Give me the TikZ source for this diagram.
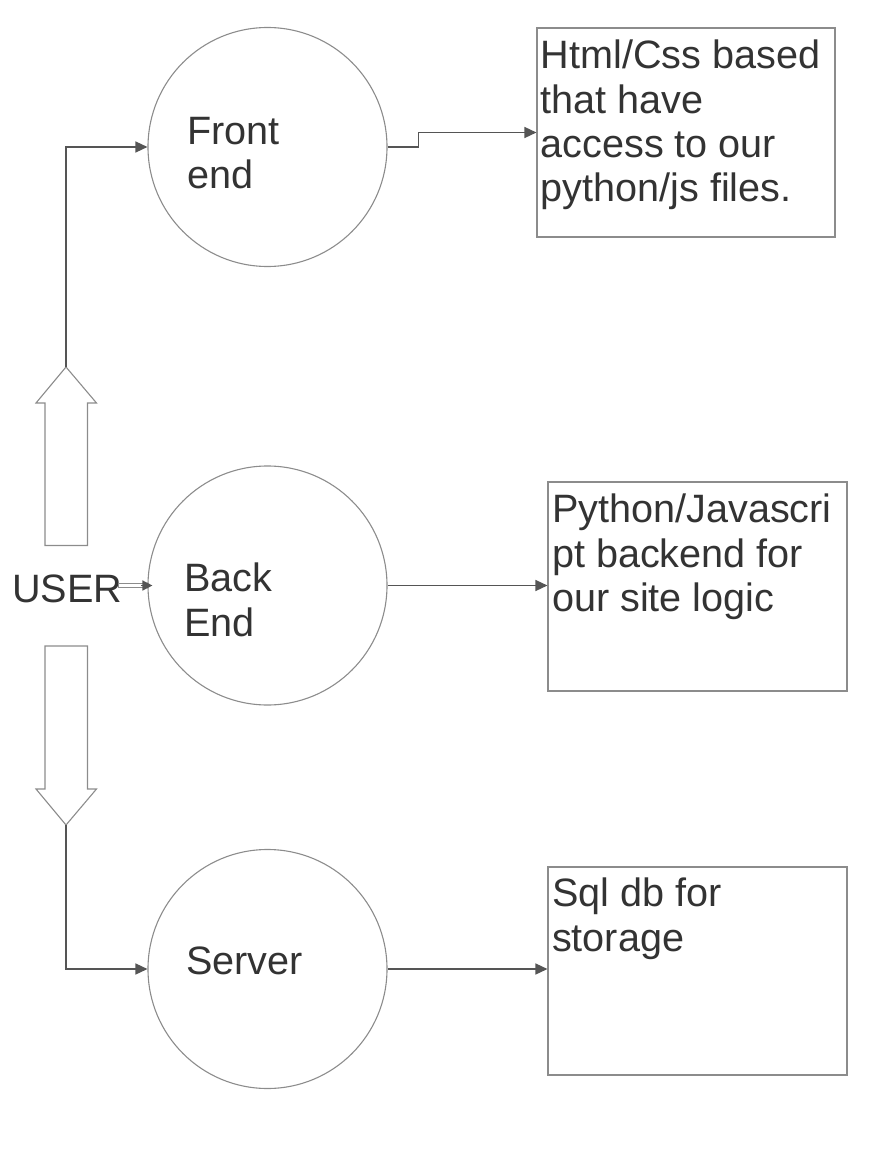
\documentclass[tikz,border=0pt]{standalone}
\usepackage{fontspec}
\setmainfont{Liberation Sans}
\usetikzlibrary{arrows.meta}

\definecolor{ink}{HTML}{333333}
\definecolor{edge}{HTML}{8C8C8C}
\definecolor{wire}{HTML}{555555}

\tikzset{
  circ/.style={circle, draw=edge, line width=1.1pt, minimum size=239pt, inner sep=0pt},
  note/.style={rectangle, draw=edge, line width=1.1pt, inner sep=0pt},
  lbl/.style={inner sep=0pt, text=ink, align=left, font=\fontsize{39.6}{44.3}\selectfont},
  conn/.style={draw=wire, line width=1.4pt, -{Triangle[length=12pt,width=11pt]}},
  blockarr/.style={draw=edge, line width=1.1pt, line join=miter},
}

\begin{document}
\begin{tikzpicture}[x=1pt,y=-1pt]
\useasboundingbox (0,0) rectangle (871,1158);

% the three parts
\node[circ] (front) at (267.5,147) {};
\node[circ] (back) at (267.5,585.5) {};
\node[circ] (server) at (267.5,969) {};
\node[lbl, anchor=north west] (fronttxt) at (187,117) {Front\\end};
\node[lbl, anchor=north west] (backtxt) at (184,563) {Back\\End};
\node[lbl, anchor=base west] (servertxt) at (186,974) {Server};

% notes on the right
\node[note, minimum width=298pt, minimum height=209pt] (htmlbox) at (686,132.5) {};
\node[note, minimum width=299pt, minimum height=209pt] (pybox) at (697.5,586.5) {};
\node[note, minimum width=299pt, minimum height=208pt] (sqlbox) at (697.5,971) {};
\node[lbl, anchor=north west] (htmltxt) at ([shift={(4,12.5)}]htmlbox.north west)
  {Html/Css based\\that have\\access to our\\python/js files.};
\node[lbl, anchor=north west] (pytxt) at ([shift={(4.5,12.5)}]pybox.north west)
  {Python/Javascri\\pt backend for\\our site logic};
\node[lbl, anchor=north west] (sqltxt) at ([shift={(4.5,11.5)}]sqlbox.north west)
  {Sql db for\\storage};

% user and the two block arrows
\node[lbl, anchor=base west] (user) at (12,602) {USER};
\draw[blockarr] (45,545.5) -- (45,403) -- (36,403) -- (66,367) coordinate (uptip)
  -- (96.5,403) -- (87.5,403) -- (87.5,545.5) -- cycle;
\draw[blockarr] (45,646) -- (45,789) -- (36,789) -- (66,825) coordinate (downtip)
  -- (96.5,789) -- (87.5,789) -- (87.5,646) -- cycle;
\draw[edge, line width=1pt] (118,583.5) rectangle (143,587.5);
\coordinate (ushaft) at (141,585.5);

% connectors
\draw[conn] (uptip) |- (front.west);
\draw[conn] (downtip) |- (server.west);
\draw[conn, -{Triangle[length=10pt,width=10pt]}] (ushaft) -- ([xshift=5pt]back.west);
\draw[conn] (front.east) -- ++(31,0) |- (htmlbox.west);
\draw[conn] (back.east) -- (back.east -| pybox.west);
\draw[conn] (server.east) -- (server.east -| sqlbox.west);
\end{tikzpicture}
\end{document}
